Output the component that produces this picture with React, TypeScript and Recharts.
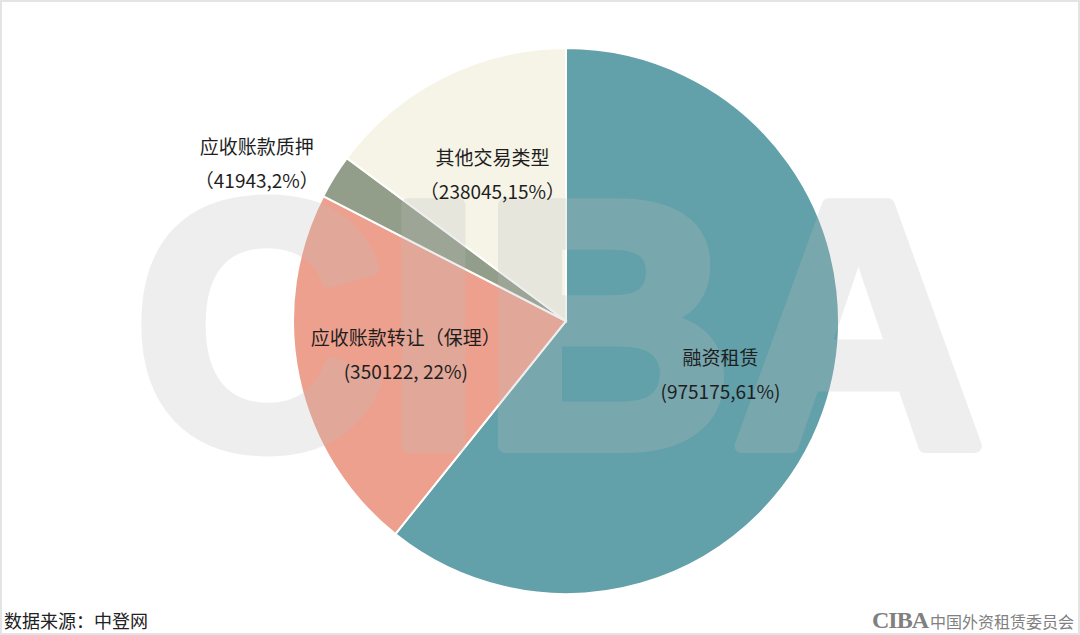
import React from 'react';
import { PieChart, Pie, Cell } from 'recharts';

const names = ['融资租赁', '应收账款转让（保理）', '应收账款质押', '其他交易类型'];
const values = [975175, 350122, 41943, 238045];
const shares = [61, 22, 2, 15];
const secondLines = ['(975175,61%)', '(350122, 22%)', '（41943,2%）', '（238045,15%）'];
const colors = ['#62A0AA', '#EEA08E', '#939E8A', '#F6F4E7'];

const data = names.map((name, i) => ({ name, value: values[i], share: shares[i], sub: secondLines[i] }));

const RAD = Math.PI / 180;
const CX = 566;
const CY = 321;
const R = 273;

function renderLabel(props: any) {
  const { cx, cy, midAngle, outerRadius, index } = props;
  const outside = index === 2;
  const r = outside ? outerRadius * 1.27 : outerRadius * 0.6;
  const ang = outside ? midAngle + 5 : midAngle;
  const x = cx + r * Math.cos(-ang * RAD);
  const y = cy + r * Math.sin(-ang * RAD);
  return (
    <text
      x={x}
      y={y}
      textAnchor="middle"
      fill="#1e1e1e"
      fontSize={19}
      fontFamily='"Noto Sans CJK SC", "Noto Sans", sans-serif'
    >
      <tspan x={x} dy={-10}>{data[index].name}</tspan>
      <tspan x={x} dy={34}>{data[index].sub}</tspan>
    </text>
  );
}

const layer: React.CSSProperties = { position: 'absolute', left: -2, top: -2 };

export default function App() {
  return (
    <div
      style={{
        position: 'absolute',
        left: 0,
        top: 0,
        width: 1080,
        height: 635,
        boxSizing: 'border-box',
        border: '2px solid #e4e4e4',
        background: '#fff',
        overflow: 'hidden',
      }}
    >
      {/* slices */}
      <div style={layer}>
        <PieChart width={1080} height={635} margin={{ top: 0, right: 0, bottom: 0, left: 0 }}>
          <Pie
            data={data}
            dataKey="value"
            nameKey="name"
            cx={CX}
            cy={CY}
            outerRadius={R}
            startAngle={90}
            endAngle={-270}
            stroke="#fff"
            strokeWidth={2}
            labelLine={false}
            isAnimationActive={false}
          >
            {data.map((d, i) => (
              <Cell key={d.name} fill={colors[i]} />
            ))}
          </Pie>
        </PieChart>
      </div>
      {/* CIBA watermark laid over the slices */}
      <svg width={1080} height={635} style={{ ...layer, pointerEvents: 'none' }}>
        <g opacity={0.25}>
          <text
            x={134}
            y={446}
            fontSize={350}
            fontWeight={700}
            fontFamily='"Liberation Sans", Arial, sans-serif'
            fill="#bdbdbd"
            stroke="#bdbdbd"
            strokeWidth={14}
            strokeLinejoin="round"
            textLength={850}
            lengthAdjust="spacingAndGlyphs"
          >
            CIBA
          </text>
        </g>
      </svg>
      {/* labels on top */}
      <div style={layer}>
        <PieChart width={1080} height={635} margin={{ top: 0, right: 0, bottom: 0, left: 0 }}>
          <Pie
            data={data}
            dataKey="value"
            nameKey="name"
            cx={CX}
            cy={CY}
            outerRadius={R}
            startAngle={90}
            endAngle={-270}
            fill="none"
            stroke="none"
            label={renderLabel}
            labelLine={false}
            isAnimationActive={false}
          />
        </PieChart>
      </div>
      <div
        style={{
          position: 'absolute',
          left: 2,
          top: 605,
          fontSize: 18,
          color: '#222',
          fontFamily: '"Noto Sans CJK SC", sans-serif',
        }}
      >
        数据来源：中登网
      </div>
      <div
        style={{
          position: 'absolute',
          left: 870,
          top: 605,
          display: 'flex',
          alignItems: 'center',
          color: '#808080',
        }}
      >
        <span
          style={{
            fontFamily: '"Liberation Serif", serif',
            fontWeight: 700,
            fontSize: 24,
            letterSpacing: -1,
          }}
        >
          CIBA
        </span>
        <span style={{ fontFamily: '"Noto Sans CJK SC", sans-serif', fontSize: 16, marginLeft: 2 }}>
          中国外资租赁委员会
        </span>
      </div>
    </div>
  );
}
